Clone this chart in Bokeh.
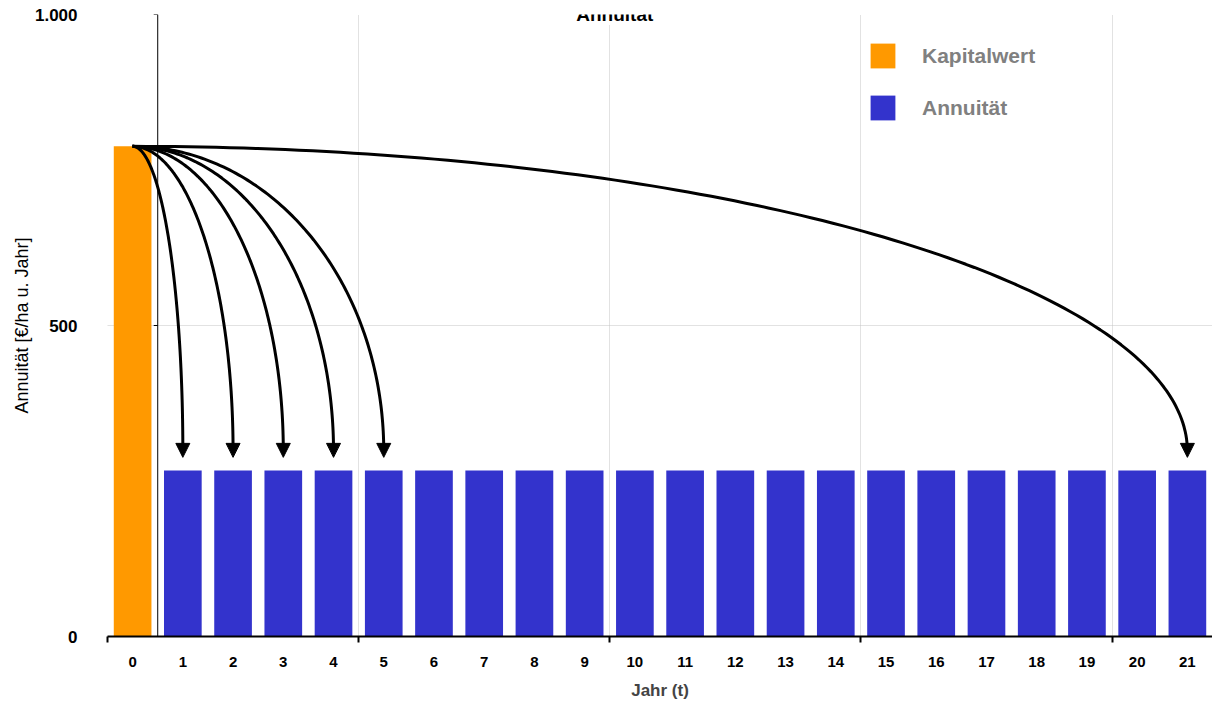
import numpy as np
from bokeh.plotting import figure
from bokeh.models import (Range1d, FixedTicker, Span, Label, Legend, LegendItem,
                          Arrow, NormalHead)
from bokeh.embed import file_html
from bokeh.resources import INLINE

# ---------------- data ----------------
title_text = "Annuität"
x_label = "Jahr (t)"
y_label = "Annuität [€/ha u. Jahr]"
legend_labels = ["Kapitalwert", "Annuität"]

jahre = list(range(22))
kapitalwert_jahr = [0]
kapitalwert = [788]
annuitaet_jahre = list(range(1, 22))
annuitaet = [267, 267, 267, 267, 267, 267, 267, 267, 267, 267, 267,
             267, 267, 267, 267, 267, 267, 267, 267, 267, 267]
pfeil_ziele = [1, 2, 3, 4, 5, 21]
y_ticks = [0, 500, 1000]
y_tick_labels = {0: "0", 500: "500", 1000: "1.000"}
gruppen_grenzen = [-0.5, 4.5, 9.5, 14.5, 19.5]

# ---------------- style ----------------
ORANGE = "#FF9900"
BLUE = "#3333CC"
FONT = "Liberation Sans"
GRID = "#c4c4c4"

p = figure(width=1212, height=704,
           x_range=Range1d(-0.5, 21.5), y_range=Range1d(0, 1000),
           output_backend="svg", toolbar_location=None,
           min_border_left=107, min_border_right=0,
           min_border_top=14, min_border_bottom=68)
p.outline_line_color = None
p.background_fill_color = "white"
p.border_fill_color = "white"

# grid
p.xgrid.ticker = FixedTicker(ticks=gruppen_grenzen)
p.ygrid.ticker = FixedTicker(ticks=y_ticks)
for g in (p.xgrid, p.ygrid):
    g.grid_line_color = GRID
    g.grid_line_dash = "1 1"
    g.grid_line_width = 1

# x axis
xa = p.xaxis[0]
xa.ticker = FixedTicker(ticks=jahre, minor_ticks=gruppen_grenzen)
xa.axis_line_width = 2
xa.axis_line_color = "black"
xa.major_tick_in = 0
xa.major_tick_out = 0
xa.minor_tick_in = 0
xa.minor_tick_out = 6
xa.minor_tick_line_width = 2
xa.minor_tick_line_color = "black"
xa.major_label_standoff = 14
xa.major_label_text_font = FONT
xa.major_label_text_font_style = "bold"
xa.major_label_text_font_size = "15px"
xa.major_label_text_color = "black"
xa.axis_label = x_label
xa.axis_label_text_font = FONT
xa.axis_label_text_font_style = "bold"
xa.axis_label_text_font_size = "17px"
xa.axis_label_standoff = 11

# y axis (labels only; line drawn at category boundary)
ya = p.yaxis[0]
ya.ticker = FixedTicker(ticks=y_ticks)
ya.major_label_overrides = y_tick_labels
ya.axis_line_color = None
ya.major_tick_line_color = None
ya.minor_tick_line_color = None
ya.major_label_standoff = 24
ya.major_label_text_font = FONT
ya.major_label_text_font_style = "bold"
ya.major_label_text_font_size = "17px"
ya.major_label_text_color = "black"
ya.axis_label = y_label
ya.axis_label_text_font = FONT
ya.axis_label_text_font_style = "normal"
ya.axis_label_text_font_size = "18px"
ya.axis_label_text_color = "black"
ya.axis_label_standoff = 0

# bars
r_k = p.vbar(x=kapitalwert_jahr, top=kapitalwert, width=0.75,
             fill_color=ORANGE, line_color=None)
r_a = p.vbar(x=annuitaet_jahre, top=annuitaet, width=0.75,
             fill_color=BLUE, line_color=None)

# vertical axis line between year 0 and year 1
p.add_layout(Span(location=0.5, dimension="height", line_color="black",
                  line_width=1))
p.segment(x0=[0.42] * 2, y0=y_ticks[1:], x1=[0.5] * 2, y1=y_ticks[1:],
          line_color="black", line_width=1)

# curved arrows from the Kapitalwert to the annuities
gap = 21       # arrow tip above bar (data units)
inset = 10     # line stops inside the arrow head
theta = np.linspace(0, np.pi / 2, 120)
x0 = kapitalwert_jahr[0]
y0 = kapitalwert[0]
for k in pfeil_ziele:
    tip = annuitaet[annuitaet_jahre.index(k)] + gap
    base = tip + inset
    xs = x0 + (k - x0) * np.sin(theta)
    ys = base + (y0 - base) * np.cos(theta)
    p.line(xs, ys, line_color="black", line_width=3)
    p.add_layout(Arrow(end=NormalHead(size=14, fill_color="black",
                                      line_color="black", line_width=1),
                       x_start=k, y_start=tip + 25, x_end=k, y_end=tip,
                       line_alpha=0))

# legend
legend = Legend(items=[LegendItem(label=legend_labels[0], renderers=[r_k]),
                       LegendItem(label=legend_labels[1], renderers=[r_a])],
                location=(760, 513), glyph_width=31, glyph_height=31,
                spacing=21, label_standoff=24, padding=0, margin=0,
                border_line_color=None, background_fill_alpha=0,
                label_text_font=FONT, label_text_font_size="21px",
                label_text_font_style="bold", label_text_color="#808080")
p.add_layout(legend)

# title
p.add_layout(Label(x=9.6, y=1000, text=title_text, text_align="center",
                   text_baseline="alphabetic", text_font=FONT,
                   text_font_size="19px", text_font_style="bold",
                   text_color="black", background_fill_color="white"))

open("out.html", "w").write(file_html(p, INLINE))
